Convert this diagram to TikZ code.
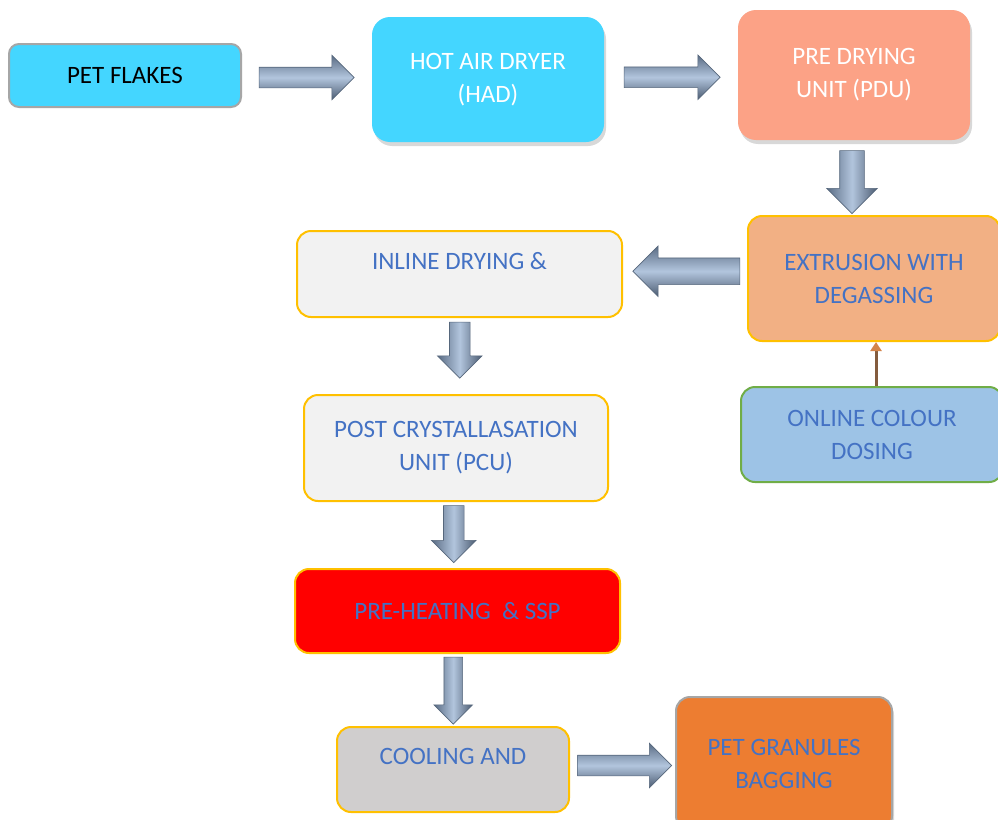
\documentclass[tikz,border=0pt]{standalone}
\usepackage{fontspec}
\setmainfont{Carlito}
\usetikzlibrary{shapes.arrows,shadows,calc,arrows.meta}

\definecolor{txtblue}{HTML}{4472C4}
\definecolor{gold}{HTML}{FFC000}
\definecolor{edgegray}{HTML}{A6A6A6}
\definecolor{cyanbox}{HTML}{44D6FF}
\definecolor{salmon}{HTML}{FCA286}
\definecolor{peach}{HTML}{F2B084}
\definecolor{skyblue}{HTML}{9DC3E6}
\definecolor{leafgreen}{HTML}{70AD47}
\definecolor{lightgray}{HTML}{F2F2F2}
\definecolor{midgray}{HTML}{D0CECE}
\definecolor{orangebox}{HTML}{ED7D31}
\definecolor{arrdark}{HTML}{5A6C84}
\definecolor{arrdarker}{HTML}{4C5C72}
\definecolor{arrlight}{HTML}{B2C5DD}
\definecolor{arredge}{HTML}{56677C}
\definecolor{feedbrown}{HTML}{845C3E}
\definecolor{feedhead}{HTML}{D3844A}

\begin{document}
\begin{tikzpicture}[x=1pt,y=-1pt,
  procbox/.style={rectangle, rounded corners=14pt, align=center,
    font=\fontsize{25}{33}\selectfont, text=txtblue, line width=2pt, inner sep=0pt},
  liftbox/.style={drop shadow={shadow xshift=2pt, shadow yshift=-4pt, opacity=0.3}},
  flowbase/.style={single arrow, single arrow head extend=12pt, single arrow tip angle=90,
    minimum height=#1, inner sep=10pt, draw=arredge, line width=0.6pt},
  flowh/.style={flowbase=#1,
    top color=arrdark, bottom color=arrdarker, middle color=arrlight},
  flowv/.style={flowbase=#1, shape border rotate=270,
    left color=arrdark, right color=arrdarker, middle color=arrlight},
  feed/.style={draw=feedbrown, line width=3pt,
    -{Triangle[width=11pt,length=9pt,color=feedhead]}}
]
\fill[white] (0,0) rectangle (998,819);
\useasboundingbox (0,0) rectangle (998,819);

% process boxes
\node[procbox, fill=cyanbox, draw=edgegray, rounded corners=10pt, text=black,
  minimum width=232pt, minimum height=63pt] (flakes) at (125,75.5) {PET FLAKES};
\node[procbox, liftbox, fill=cyanbox, rounded corners=18pt, text=white,
  minimum width=232pt, minimum height=125pt] (had) at (488,79.5) {HOT AIR DRYER\\(HAD)};
\node[procbox, liftbox, fill=salmon, rounded corners=18pt, text=white,
  minimum width=232pt, minimum height=130pt] (pdu) at (854,75) {PRE DRYING\\UNIT (PDU)};
\node[procbox, fill=peach, draw=gold,
  minimum width=252pt, minimum height=125pt] (extr) at (874,278.5) {EXTRUSION WITH\\DEGASSING};
\node[procbox, fill=skyblue, draw=leafgreen,
  minimum width=262pt, minimum height=95pt] (dosing) at (872,434.5) {ONLINE COLOUR\\DOSING};
\node[procbox, fill=lightgray, draw=gold,
  minimum width=325pt, minimum height=86pt] (inline) at (459.5,274) {INLINE DRYING \&\\[-16pt]\strut};
\node[procbox, fill=lightgray, draw=gold,
  minimum width=304pt, minimum height=106pt] (pcu) at (456,448) {POST CRYSTALLASATION\\UNIT (PCU)};
\node[procbox, fill=red, draw=gold,
  minimum width=325pt, minimum height=84pt] (heat) at (457.5,611) {PRE-HEATING \ \& SSP};
\node[procbox, fill=midgray, draw=gold,
  minimum width=232pt, minimum height=85pt] (cool) at (453,769.5) {COOLING AND\\[-17pt]\strut};
\node[procbox, liftbox, fill=orangebox, draw=edgegray,
  minimum width=216pt, minimum height=133pt] (bag) at (784,763.5) {PET GRANULES\\BAGGING};

% block arrows between the stages
\node[flowh=95pt] (a1) at ($(flakes.east)!0.5!(had.west)+(-5,0)$) {};
\node[flowh=96pt] (a2) at ($(had.east)!0.5!(pdu.west)+(-4,0)$) {};
\node[flowv=63pt, inner sep=12pt, single arrow head extend=13pt] (a3) at ($(pdu.south)!0.5!(pdu.south |- extr.north)+(-2,-2)$) {};
\node[flowh=107pt, shape border rotate=180, inner sep=13pt] (a4) at ($(extr.west)!0.5!(inline.east)+(8,-5)$) {};
\node[flowv=56pt] (a5) at ($(inline.south)!0.5!(pcu.north)+(2,-11)$) {};
\node[flowv=57pt] (a6) at ($(pcu.south)!0.5!(heat.north)+(-3,-6)$) {};
\node[flowv=67pt, inner sep=9pt, single arrow head extend=10pt] (a7) at ($(heat.south)!0.5!(cool.north)+(-2,-4)$) {};
\node[flowh=94pt] (a8) at ($(cool.east)!0.5!(bag.west)+(-3,-1)$) {};

% colour feed into the extruder
\coordinate (feedstart) at ($(dosing.north)+(4,0)$);
\draw[feed] (feedstart) -- (feedstart |- extr.south);
\end{tikzpicture}
\end{document}
